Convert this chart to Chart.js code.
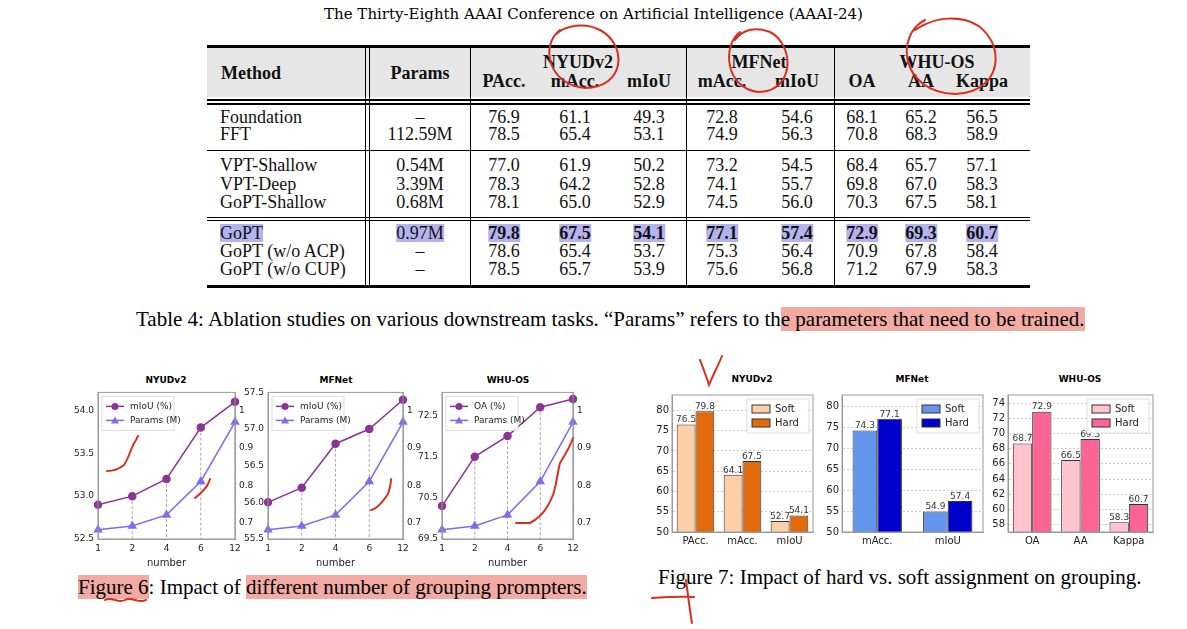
<!DOCTYPE html>
<html>
<head>
<meta charset="utf-8">
<script src="https://cdn.jsdelivr.net/npm/chart.js@4.4.0/dist/chart.umd.min.js"></script>
<style>
  body { margin: 0; width: 1187px; height: 629px; background: #fff; position: relative; overflow: hidden; font-family: "Liberation Serif", "DejaVu Serif", serif; }
  .abs { position: absolute; }
  .cell { position: absolute; font-size: 18px; line-height: 18px; white-space: nowrap; transform: translate(-50%, -50%); color: #111; }
  .rule { position: absolute; background: #000; }
  .hl { background: #b5b3ee; }
  .pink { background: #f2aaa2; }
  .ctitle { position: absolute; font: bold 9px "DejaVu Sans", sans-serif; transform: translateX(-50%); }
  canvas { position: absolute; }
  .cap { position: absolute; font-size: 21px; white-space: nowrap; }
</style>
</head>
<body>
<div class="abs" style="left:0;top:5px;text-align:center;font-size:15px;font-family:'DejaVu Serif',serif;width:1187px">The Thirty-Eighth AAAI Conference on Artificial Intelligence (AAAI-24)</div>
<div id="table"></div>

<div class="cap" style="left:136px;top:307px">Table 4: Ablation studies on various downstream tasks. “Params” refers to th<span class="pink">e parameters that need to be trained.</span></div>

<div class="ctitle" style="left:166px;top:375px">NYUDv2</div>
<div class="ctitle" style="left:336px;top:375px">MFNet</div>
<div class="ctitle" style="left:508px;top:375px">WHU-OS</div>
<canvas id="l1" style="left:72px;top:383px" width="182" height="186"></canvas>
<canvas id="l2" style="left:242px;top:383px" width="180" height="186"></canvas>
<canvas id="l3" style="left:416px;top:383px" width="176" height="186"></canvas>

<div class="ctitle" style="left:752px;top:374px">NYUDv2</div>
<div class="ctitle" style="left:912px;top:374px">MFNet</div>
<div class="ctitle" style="left:1080px;top:374px">WHU-OS</div>
<canvas id="b1" style="left:648px;top:386px" width="168" height="166"></canvas>
<canvas id="b2" style="left:818px;top:386px" width="168" height="166"></canvas>
<canvas id="b3" style="left:984px;top:386px" width="172" height="166"></canvas>

<div class="cap" style="left:78px;top:575px"><span class="pink">Figure 6</span>: Impact of <span class="pink">different number of grouping prompters.</span></div>
<div class="cap" style="left:658px;top:565px">Figure 7: Impact of hard vs. soft assignment on grouping.</div>

<svg class="abs" style="left:0;top:0" width="1187" height="629" fill="none" stroke="#d7301f" stroke-width="2" stroke-linecap="round">
  <path d="M560 30 C540 45 548 85 585 88 C625 88 628 45 600 30 C585 22 565 25 555 35"/>
  <path d="M740 32 C722 45 725 88 758 92 C795 92 795 45 770 32 C755 26 742 30 735 40"/>
  <path d="M925 20 C895 35 900 92 955 94 C1010 92 1005 30 965 20 C945 16 930 20 915 30"/>
  <path d="M107 471 C113 471 118 470 124 465 C129 458 131 447 136 440 L138 436"/>
  <path d="M195 498 C200 494 205 490 208 484 L210 479"/>
  <path d="M371 510 C378 509 384 500 388 494 C390 488 391 482 391 479"/>
  <path d="M516 523 L530 523 C540 518 548 508 553 495 C556 487 558 470 560 463 C565 455 570 447 573 438"/>
  <path d="M700 360 C703 368 706 375 709 385 C713 375 718 366 722 356"/>
  <path d="M652 598 C665 597 680 596 694 597 M686 580 C688 595 690 612 692 623"/>
  <path d="M105 600 C112 596 118 604 125 600 C132 596 138 604 146 600"/>
</svg>

<script>
// ---- Table 4 data ----
const tableRows = [
  ['Foundation', '–', '76.9', '61.1', '49.3', '72.8', '54.6', '68.1', '65.2', '56.5'],
  ['FFT', '112.59M', '78.5', '65.4', '53.1', '74.9', '56.3', '70.8', '68.3', '58.9'],
  ['VPT-Shallow', '0.54M', '77.0', '61.9', '50.2', '73.2', '54.5', '68.4', '65.7', '57.1'],
  ['VPT-Deep', '3.39M', '78.3', '64.2', '52.8', '74.1', '55.7', '69.8', '67.0', '58.3'],
  ['GoPT-Shallow', '0.68M', '78.1', '65.0', '52.9', '74.5', '56.0', '70.3', '67.5', '58.1'],
  ['GoPT', '0.97M', '79.8', '67.5', '54.1', '77.1', '57.4', '72.9', '69.3', '60.7'],
  ['GoPT (w/o ACP)', '–', '78.6', '65.4', '53.7', '75.3', '56.4', '70.9', '67.8', '58.4'],
  ['GoPT (w/o CUP)', '–', '78.5', '65.7', '53.9', '75.6', '56.8', '71.2', '67.9', '58.3']
];
const groupHeads = ['NYUDv2', 'MFNet', 'WHU-OS'];
const subHeads = ['PAcc.', 'mAcc.', 'mIoU', 'mAcc.', 'mIoU', 'OA', 'AA', 'Kappa'];
const bestRow = 5;

// ---- Figure 6 data ----
const groupNumbers = ['1', '2', '4', '6', '12'];
const paramsM = [0.68, 0.69, 0.72, 0.81, 0.97];
const nyuMiou = [52.9, 53.0, 53.2, 53.8, 54.1];
const mfnetMiou = [56.0, 56.2, 56.8, 57.0, 57.4];
const whuOa = [70.3, 71.5, 72.0, 72.7, 72.9];
const nyuTicks = [52.5, 53.0, 53.5, 54.0];
const mfnetTicks = [55.5, 56.0, 56.5, 57.0, 57.5];
const whuTicks = [69.5, 70.5, 71.5, 72.5];
const paramTicks = [0.7, 0.8, 0.9, 1];

// ---- Figure 7 data ----
const nyuMetrics = ['PAcc.', 'mAcc.', 'mIoU'];
const nyuSoft = [76.5, 64.1, 52.7];
const nyuHard = [79.8, 67.5, 54.1];
const mfnetMetrics = ['mAcc.', 'mIoU'];
const mfnetSoft = [74.3, 54.9];
const mfnetHard = [77.1, 57.4];
const whuMetrics = ['OA', 'AA', 'Kappa'];
const whuSoft = [68.7, 66.5, 58.3];
const whuHard = [72.9, 69.3, 60.7];
const pctTicks = [50, 55, 60, 65, 70, 75, 80];
const whuBarTicks = [58, 60, 62, 64, 66, 68, 70, 72, 74];

// ---- build table ----
(function buildTable() {
  const t = document.getElementById('table');
  const colX = [220, 420, 504, 575, 649, 722, 797, 862, 921, 982];
  const rowY = [117, 134, 165, 184, 202, 233, 251, 269];
  const add = (html) => t.insertAdjacentHTML('beforeend', html);
  add('<div class="abs" style="left:207px;top:48px;width:823px;height:49px;background:#e6e6e6"></div>');
  [[45, 3], [99, 1.5], [103, 1.5], [150, 1.3], [217, 1.3], [220, 1.3], [285, 3]].forEach(([y, h]) =>
    add(`<div class="rule" style="left:207px;top:${y}px;width:823px;height:${h}px"></div>`));
  [[365, 48], [369, 48], [470, 48], [686, 48], [834, 48]].forEach(([x, y]) =>
    add(`<div class="rule" style="left:${x}px;top:${y}px;width:1px;height:${285 - y}px"></div>`));
  add('<div class="cell" style="left:251px;top:73px;font-weight:bold">Method</div>');
  add('<div class="cell" style="left:420px;top:73px;font-weight:bold">Params</div>');
  [578, 759, 937].forEach((x, i) => add(`<div class="cell" style="left:${x}px;top:62px;font-weight:bold">${groupHeads[i]}</div>`));
  subHeads.forEach((s, i) => add(`<div class="cell" style="left:${colX[i + 2]}px;top:81px;font-weight:bold">${s}</div>`));
  tableRows.forEach((row, r) => {
    row.forEach((v, c) => {
      const best = r === bestRow;
      const cls = best ? ' hl' : '';
      const bold = best && c >= 2 ? 'font-weight:bold;' : '';
      if (c === 0) add(`<div class="cell${cls}" style="left:${colX[0]}px;top:${rowY[r]}px;transform:translateY(-50%);${bold}">${v}</div>`);
      else add(`<div class="cell${cls}" style="left:${colX[c]}px;top:${rowY[r]}px;${bold}">${v}</div>`);
    });
  });
})();

Chart.defaults.font.family = '"DejaVu Sans", sans-serif';
Chart.defaults.font.size = 9;
Chart.defaults.color = '#222';
Chart.defaults.animation = false;

// matplotlib-like box around the plot area
const frame = {
  id: 'frame',
  afterDatasetsDraw(chart) {
    const { ctx, chartArea: a } = chart;
    ctx.save();
    ctx.strokeStyle = '#999';
    ctx.lineWidth = 1;
    ctx.strokeRect(a.left, a.top, a.right - a.left, a.bottom - a.top);
    ctx.restore();
  }
};

// legend drawn inside the plot area
const innerLegend = {
  id: 'innerLegend',
  afterDraw(chart, args, opts) {
    const { ctx, chartArea } = chart;
    const items = chart.data.datasets;
    ctx.save();
    ctx.font = (opts.size || 9) + 'px "DejaVu Sans", sans-serif';
    const w = opts.width, h = items.length * 14 + 6;
    const x = opts.right ? chartArea.right - w - 4 : chartArea.left + 4;
    const y = chartArea.top + 4;
    ctx.fillStyle = 'rgba(255,255,255,0.85)';
    ctx.strokeStyle = '#ddd';
    ctx.lineWidth = 1;
    ctx.fillRect(x, y, w, h);
    ctx.strokeRect(x, y, w, h);
    items.forEach((d, i) => {
      const cy = y + 10 + i * 14;
      if (opts.bars) {
        ctx.fillStyle = d.backgroundColor;
        ctx.strokeStyle = '#333';
        ctx.fillRect(x + 5, cy - 4, 18, 8);
        ctx.strokeRect(x + 5, cy - 4, 18, 8);
      } else {
        ctx.strokeStyle = d.borderColor;
        ctx.lineWidth = 1.5;
        ctx.beginPath(); ctx.moveTo(x + 4, cy); ctx.lineTo(x + 22, cy); ctx.stroke();
        ctx.fillStyle = d.backgroundColor;
        ctx.beginPath();
        if (d.pointStyle === 'triangle') { ctx.moveTo(x + 13, cy - 4); ctx.lineTo(x + 17, cy + 3); ctx.lineTo(x + 9, cy + 3); }
        else ctx.arc(x + 13, cy, 3.5, 0, Math.PI * 2);
        ctx.fill();
      }
      ctx.fillStyle = '#222';
      ctx.textBaseline = 'middle';
      ctx.fillText(d.label, x + 28, cy);
    });
    ctx.restore();
  }
};

// dashed drop lines from each top-series point to the x axis
const dropLines = {
  id: 'dropLines',
  beforeDatasetsDraw(chart) {
    const { ctx, chartArea } = chart;
    const pts = chart.getDatasetMeta(0).data;
    ctx.save();
    ctx.strokeStyle = '#aaa';
    ctx.setLineDash([3, 2]);
    ctx.lineWidth = 1;
    pts.forEach(p => { ctx.beginPath(); ctx.moveTo(p.x, p.y); ctx.lineTo(p.x, chartArea.bottom); ctx.stroke(); });
    ctx.restore();
  }
};

// value labels above bars
const barLabels = {
  id: 'barLabels',
  afterDatasetsDraw(chart) {
    const { ctx } = chart;
    ctx.save();
    ctx.font = '9px "DejaVu Sans", sans-serif';
    ctx.fillStyle = '#333';
    ctx.textAlign = 'center';
    ctx.textBaseline = 'bottom';
    chart.data.datasets.forEach((d, di) => {
      chart.getDatasetMeta(di).data.forEach((bar, i) => ctx.fillText(d.data[i].toFixed(1), bar.x, bar.y));
    });
    ctx.restore();
  }
};

const fixWidth = (w) => (s) => { s.width = w; };
const fixHeight = (h) => (s) => { s.height = h; };
const setTicks = (list) => (s) => { s.ticks = list.map(v => ({ value: v })); };
const noGrid = { display: false, drawTicks: false, tickLength: 0 };

function lineChart(id, metricLabel, metric, yMin, yMax, ticks) {
  new Chart(document.getElementById(id), {
    type: 'line',
    data: {
      labels: groupNumbers,
      datasets: [
        { label: metricLabel, data: metric, borderColor: '#8a3595', backgroundColor: '#8a3595', pointRadius: 3.5, borderWidth: 1.5, yAxisID: 'y' },
        { label: 'Params (M)', data: paramsM, borderColor: '#7b6cf0', backgroundColor: '#7b6cf0', pointStyle: 'triangle', pointRadius: 4, borderWidth: 1.5, yAxisID: 'y2' }
      ]
    },
    options: {
      responsive: false,
      layout: { padding: { top: 2, right: 0 } },
      plugins: { legend: { display: false }, tooltip: { enabled: false }, innerLegend: { width: 72 } },
      scales: {
        x: { grid: noGrid, border: { color: '#999' }, ticks: { padding: 4 },
             title: { display: true, text: 'number', padding: 0, font: { size: 10 } }, afterFit: fixHeight(30) },
        y: { min: yMin, max: yMax, grid: noGrid, border: { color: '#999' },
             ticks: { callback: v => v.toFixed(1), padding: 4 }, afterBuildTicks: setTicks(ticks), afterFit: fixWidth(26) },
        y2: { position: 'right', min: 0.655, max: 1.05, grid: noGrid, border: { color: '#999' },
              ticks: { callback: v => (Math.abs(v - 1) < 1e-6 ? '1' : v.toFixed(1)), padding: 4 },
              afterBuildTicks: setTicks(paramTicks), afterFit: fixWidth(19) }
      }
    },
    plugins: [frame, innerLegend, dropLines]
  });
}

lineChart('l1', 'mIoU (%)', nyuMiou, 52.5, 54.21, nyuTicks);
lineChart('l2', 'mIoU (%)', mfnetMiou, 55.5, 57.5, mfnetTicks);
lineChart('l3', 'OA (%)', whuOa, 69.5, 73.06, whuTicks);

function barChart(id, labels, soft, hard, softColor, hardColor, yMin, yMax, ticks, pct) {
  new Chart(document.getElementById(id), {
    type: 'bar',
    data: {
      labels,
      datasets: [
        { label: 'Soft', data: soft, backgroundColor: softColor, borderColor: '#333', borderWidth: 1 },
        { label: 'Hard', data: hard, backgroundColor: hardColor, borderColor: '#333', borderWidth: 1 }
      ]
    },
    options: {
      responsive: false,
      layout: { padding: { top: 2, right: 3 } },
      datasets: { bar: { categoryPercentage: pct, barPercentage: 1 } },
      plugins: { legend: { display: false }, tooltip: { enabled: false }, innerLegend: { width: 62, right: true, bars: true, size: 10 } },
      scales: {
        x: { grid: noGrid, border: { color: '#999' }, ticks: { padding: 3, font: { size: 10 } }, afterFit: fixHeight(20) },
        y: { min: yMin, max: yMax,
             grid: { color: '#ccc', drawTicks: false, tickLength: 0 }, border: { dash: [2, 2], color: '#999' },
             ticks: { font: { size: 10 }, padding: 3 }, afterBuildTicks: setTicks(ticks), afterFit: fixWidth(24) }
      }
    },
    plugins: [frame, innerLegend, barLabels]
  });
}

barChart('b1', nyuMetrics, nyuSoft, nyuHard, '#fdcfa8', '#e06a0c', 50, 83.8, pctTicks, 0.8);
barChart('b2', mfnetMetrics, mfnetSoft, mfnetHard, '#6495ed', '#0000cd', 50, 82.8, pctTicks, 0.7);
barChart('b3', whuMetrics, whuSoft, whuHard, '#ffc4cc', '#fc6493', 57, 75.1, whuBarTicks, 0.8);
</script>
</body>
</html>
